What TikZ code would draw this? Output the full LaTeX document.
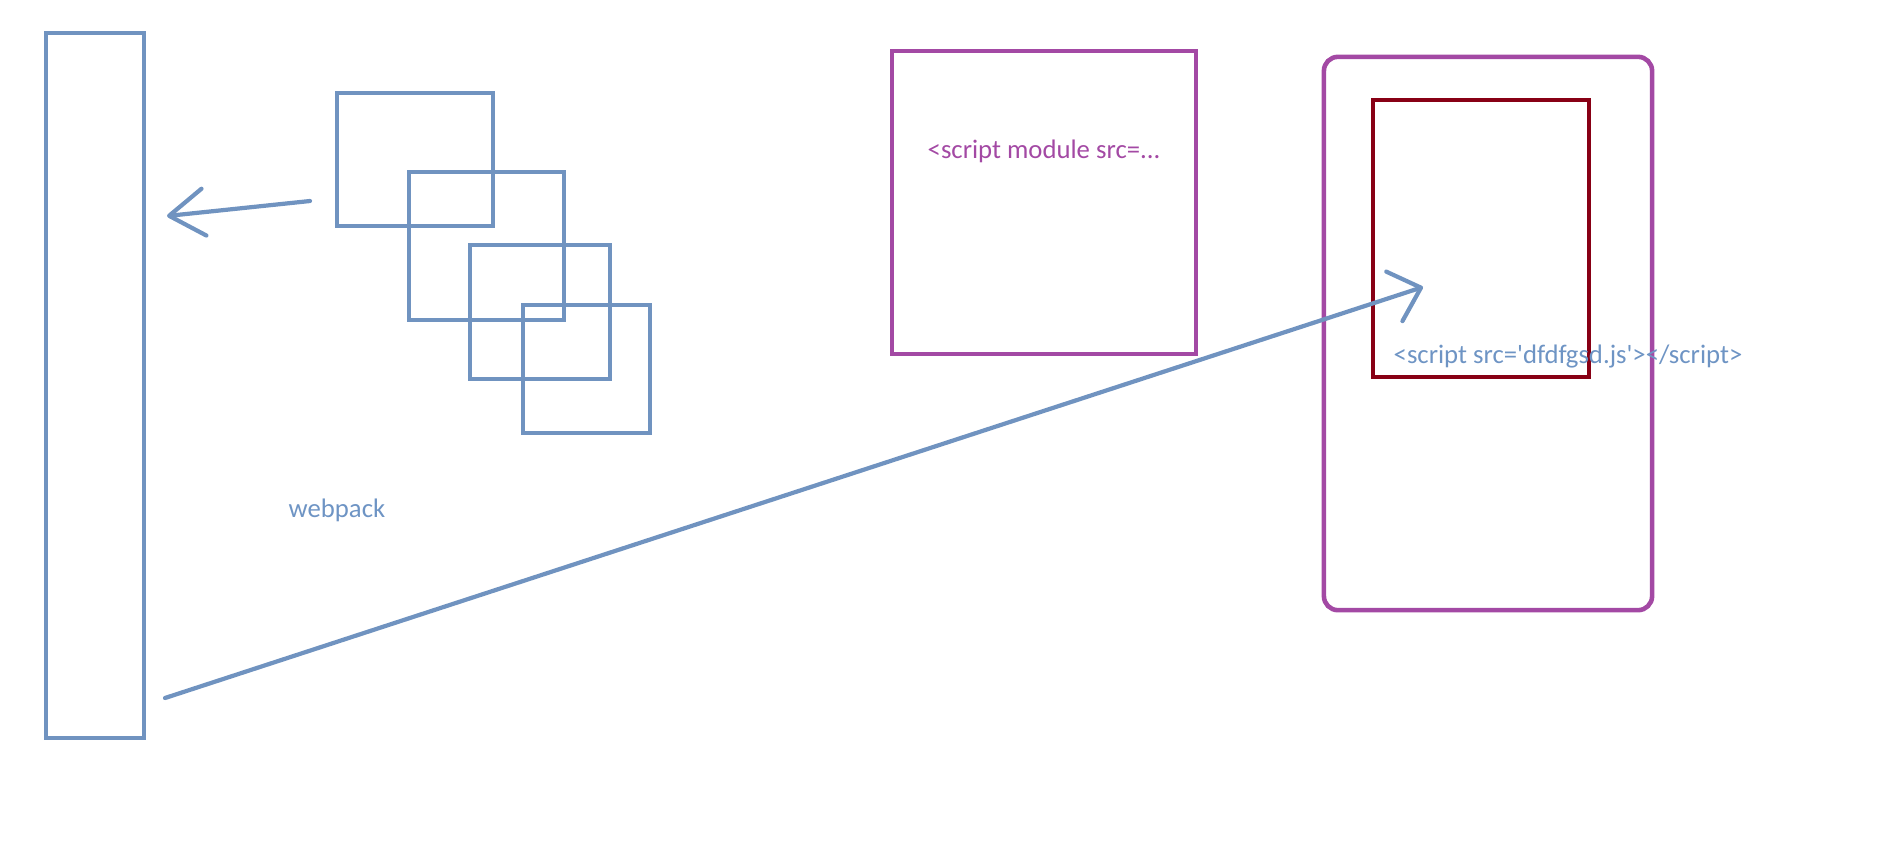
\documentclass[tikz,border=0pt]{standalone}
\usepackage{fontspec}
\setmainfont{Carlito}
\usepackage{tikz}
\usetikzlibrary{arrows.meta,calc}
\definecolor{penblue}{RGB}{112,147,192}
\definecolor{inkblue}{RGB}{110,148,196}
\definecolor{penpurple}{RGB}{163,73,164}
\definecolor{pendarkred}{RGB}{136,0,21}
\tikzset{every picture/.append style={x=0.01cm,y=-0.01cm}}
\tikzset{chunk/.style={draw=penblue, line width=1.15pt, inner sep=0pt}}
\tikzset{htmlbox/.style={draw=penpurple, line width=1.3pt, inner sep=0pt}}
\tikzset{scriptbox/.style={draw=pendarkred, line width=1.15pt, inner sep=0pt}}
\tikzset{note/.style={inner sep=0pt, font=\fontsize{7.6}{9}\selectfont, #1}}
\tikzset{note/.default=inkblue}
\tikzset{handarc/.style={penblue, line width=1.2pt, line cap=round, -{Straight Barb[length=3.5mm,width=4.7mm,round]}}}
\tikzset{longarc/.style={penblue, line width=1.2pt, line cap=round, -{Straight Barb[length=2.8mm,width=5.2mm,round]}}}

\begin{document}
\begin{tikzpicture}
%sketch: webpack bundles the modules into one file, which the page loads with a plain script tag
\useasboundingbox (0,0) rectangle (1903,860);
\node (bundle) at (95,385.5)[chunk, minimum width=0.98cm, minimum height=7.05cm]{};
\node (m1) at (415,159.5)[chunk, minimum width=1.56cm, minimum height=1.33cm]{};
\node (m2) at (486.5,246)[chunk, minimum width=1.55cm, minimum height=1.48cm]{};
\node (m3) at (540,312)[chunk, minimum width=1.40cm, minimum height=1.34cm]{};
\node (m4) at (586.5,369)[chunk, minimum width=1.27cm, minimum height=1.28cm]{};
\node (wp) at (288,517)[note, anchor=base west]{webpack};
\node (html) at (1044,202.5)[htmlbox, minimum width=3.04cm, minimum height=3.03cm]{};
\node (modtag) at (927,158)[note=penpurple, anchor=base west]{<script module src=...};
\node (page) at (1488,333.5)[htmlbox, rounded corners=1.4mm, minimum width=3.28cm, minimum height=5.53cm]{};
\node (script) at (1481,238.5)[scriptbox, minimum width=2.16cm, minimum height=2.77cm]{};
\node (tag) at (1393,363)[note, anchor=base west]{<script src=\textquotesingle dfdfgsd.js\textquotesingle></script>};
\coordinate (in1) at (310,201);
\coordinate (in2) at (167,216);
\coordinate (out1) at (165,698);
\coordinate (out2) at (1423,287);
\draw[handarc] (in1)--(in2);
\draw[longarc] (out1)--(out2);
% \draw[handarc] (m1.west)--(bundle.east);
\end{tikzpicture}
\end{document}
